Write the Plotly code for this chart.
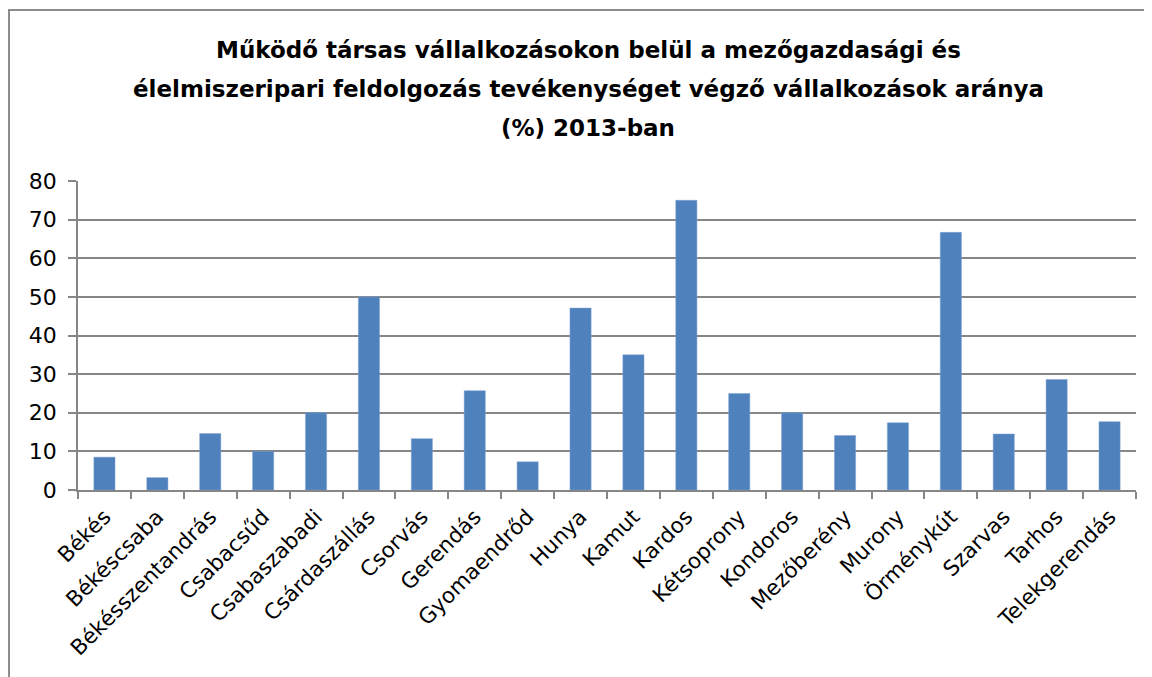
import plotly.graph_objects as go

categories = ["Békés", "Békéscsaba", "Békésszentandrás", "Csabacsűd", "Csabaszabadi",
              "Csárdaszállás", "Csorvás", "Gerendás", "Gyomaendrőd", "Hunya", "Kamut",
              "Kardos", "Kétsoprony", "Kondoros", "Mezőberény", "Murony", "Örménykút",
              "Szarvas", "Tarhos", "Telekgerendás"]
values = [8.5, 3.2, 14.6, 10.0, 20.0, 50.0, 13.3, 25.7, 7.3, 47.1, 35.0,
          75.0, 25.0, 20.0, 14.1, 17.4, 66.7, 14.5, 28.6, 17.7]
title_lines = ["Működő társas vállalkozásokon belül a mezőgazdasági és",
               "élelmiszeripari feldolgozás tevékenységet végző vállalkozások aránya",
               "(%) 2013-ban"]
y_ticks = [0, 10, 20, 30, 40, 50, 60, 70, 80]

OFF = 8  # page body margin
W, H = 1152 - OFF, 677 - OFF
L, T = 78 - OFF, 181 - OFF
R = W - (1136 - OFF)
B = H - (490 - OFF)
pw, ph = W - L - R, H - T - B

def px_x(x):
    return (x - OFF - L) / pw

def px_y(y):
    return (H - B - (y - OFF)) / ph

fig = go.Figure()
fig.add_trace(go.Bar(x=categories, y=values, marker=dict(color="#4F81BD",
                     line=dict(color="#7FA3D3", width=0.5)), width=0.4))

font = "DejaVu Sans, sans-serif"
ann = []
for t, yy in zip(title_lines, [50, 89, 128]):
    ann.append(dict(text="<b>" + t + "</b>", x=px_x(588), y=px_y(yy), xref="paper", yref="paper",
                    xanchor="center", yanchor="middle", showarrow=False,
                    font=dict(family=font, size=23, color="black")))

fig.update_layout(
    width=W, height=H,
    margin=dict(l=L, r=R, t=T, b=B),
    paper_bgcolor="white", plot_bgcolor="white",
    showlegend=False,
    annotations=ann,
    shapes=[dict(type="rect", xref="paper", yref="paper",
                 x0=px_x(9), x1=px_x(1200), y0=px_y(700), y1=px_y(10),
                 line=dict(color="#8C8C8C", width=2), fillcolor="rgba(0,0,0,0)", layer="below")],
    xaxis=dict(tickangle=-45, tickfont=dict(family=font, size=21.5, color="black"),
               showline=True, linecolor="#868686", linewidth=1.5,
               ticks="outside", ticklen=7, tickcolor="#868686", tickwidth=1.5,
               ticklabelstandoff=4,
               tickson="boundaries", showgrid=False, fixedrange=True),
    yaxis=dict(range=[0, 80], tickvals=y_ticks, tickfont=dict(family=font, size=22, color="black"),
               showline=True, linecolor="#868686", linewidth=1.5,
               showgrid=True, gridcolor="#868686", gridwidth=1.5,
               ticks="outside", ticklen=8, tickcolor="#868686", tickwidth=1.5,
               ticklabelstandoff=7,
               zeroline=False, fixedrange=True),
)
fig.write_html("out.html")
